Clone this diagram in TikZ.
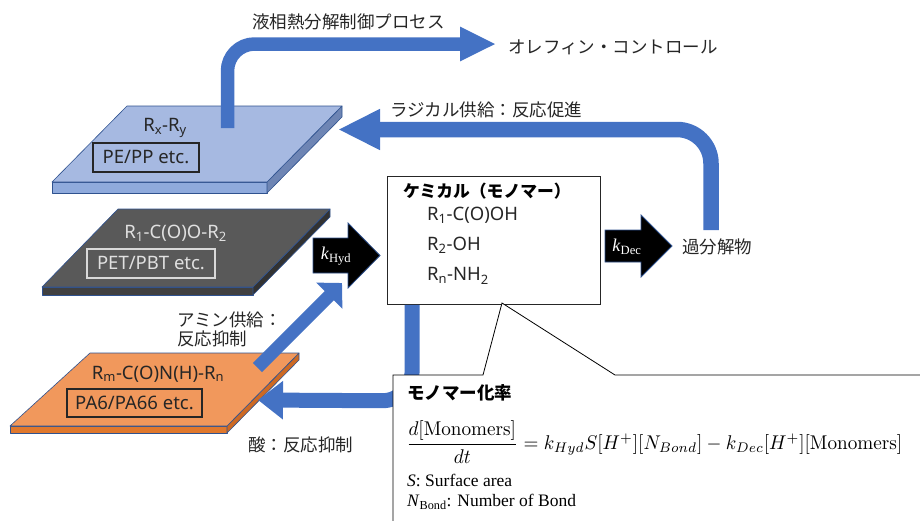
\documentclass[tikz,border=0pt]{standalone}
\usepackage[no-math]{fontspec}
\usepackage{graphicx}
\usepackage{amsmath}
\setmainfont{Noto Sans}
\newfontfamily\jp{Noto Sans CJK JP}
\newfontfamily\tnr{Liberation Serif}
\usetikzlibrary{arrows.meta}

\definecolor{arrowblue}{RGB}{68,114,196}
\definecolor{edgeblue}{RGB}{47,82,143}
\definecolor{peTop}{RGB}{166,185,225}
\definecolor{peFront}{RGB}{143,170,220}
\definecolor{peSide}{RGB}{110,133,180}
\definecolor{petTop}{RGB}{89,89,89}
\definecolor{petFront}{RGB}{64,64,64}
\definecolor{petSide}{RGB}{50,50,50}
\definecolor{paTop}{RGB}{241,152,92}
\definecolor{paFront}{RGB}{224,120,45}
\definecolor{paSide}{RGB}{205,105,35}

\begin{document}
\begin{tikzpicture}[x=1pt,y=-1pt,
	jtext/.style={font=\jp\fontsize{17.5}{19}\selectfont, text=black!85, inner sep=0pt},
	ltext/.style={font=\fontsize{18.5}{20}\selectfont, text=black!85, inner sep=0pt},
	tagbox/.style={draw=black!85, line width=1.3pt, inner sep=0pt},
	bluearrow/.style={draw=arrowblue, line width=#1},
	blockarrow/.style={fill=black, draw=edgeblue, line width=0.8pt},
	slab/.style={draw=edgeblue, line width=0.6pt, line join=round}]
	\useasboundingbox (0,0) rectangle (920,520);
	\clip (0,0) rectangle (920,520);
	
	% PE/PP plate
	\filldraw [slab, fill=peFront] (52,182) -- (267,182) -- (267,193) -- (52,193) -- cycle;
	\filldraw [slab, fill=peSide] (267,182) -- (342,106) -- (342,117) -- (267,193) -- cycle;
	\filldraw [slab, fill=peTop] (127,106) -- (342,106) -- (267,182) -- (52,182) -- cycle;
	\node [ltext] (rxry) at (165,128) {R\textsubscript{x}-R\textsubscript{y}};
	\node [ltext, tagbox, minimum width=106pt, minimum height=29pt] (pepp) at (146,157.5) {PE/PP etc.};
	
	% PET/PBT plate
	\filldraw [slab, fill=petFront] (42,287) -- (253,287) -- (253,295) -- (42,295) -- cycle;
	\filldraw [slab, fill=petSide] (253,287) -- (330,209) -- (330,217) -- (253,295) -- cycle;
	\filldraw [slab, fill=petTop] (118,209) -- (330,209) -- (253,287) -- (42,287) -- cycle;
	\node [ltext, text=black!12] (ester) at (175.5,233) {R\textsubscript{1}-C(O)O-R\textsubscript{2}};
	\node [ltext, tagbox, draw=black!15, text=black!12, minimum width=128pt, minimum height=29pt] (petpbt) at (151,263.5) {PET/PBT etc.};
	
	% PA plate
	\filldraw [slab, fill=paFront] (10,426) -- (227,426) -- (227,433) -- (10,433) -- cycle;
	\filldraw [slab, fill=paSide] (227,426) -- (299,353) -- (299,360) -- (227,433) -- cycle;
	\filldraw [slab, fill=paTop] (90,353) -- (299,353) -- (227,426) -- (10,426) -- cycle;
	\node [ltext] (amide) at (158,374) {R\textsubscript{m}-C(O)N(H)-R\textsubscript{n}};
	\node [ltext, tagbox, minimum width=135pt, minimum height=28pt] (pa) at (134.5,403) {PA6/PA66 etc.};
	
	% chemicals
	\node [draw=black!85, line width=0.8pt, fill=white, minimum width=213pt, minimum height=128pt, inner sep=0pt] (chem) at (493.5,240) {};
	\node [jtext, font=\jp\bfseries\fontsize{16.8}{19}\selectfont, text=black, anchor=west] (chemtitle) at (403,191) {ケミカル（モノマー）};
	\node [ltext, anchor=west] (acid) at (427,215) {R\textsubscript{1}-C(O)OH};
	\node [ltext, anchor=west] (diol) at (427,245) {R\textsubscript{2}-OH};
	\node [ltext, anchor=west] (amine) at (427,276) {R\textsubscript{n}-NH\textsubscript{2}};
	
	\node [jtext, anchor=west] (overdec) at (682,247) {過分解物};
	\node [jtext, anchor=west] (olefin) at (508,47) {オレフィン・コントロール};
	\node [jtext, anchor=west] (liquid) at (252,22) {液相熱分解制御プロセス};
	\node [jtext, anchor=west] (radical) at (390,110) {ラジカル供給：反応促進};
	\node [jtext, anchor=north west, align=left] (aminesup) at (177,312) {アミン供給：\\反応抑制};
	\node [jtext, anchor=west] (acidsup) at (248,445) {酸：反応抑制};
	
	% blue arrows
	\coordinate (peout) at (227.5,128);
	\coordinate (pein) at (338,129.5);
	\coordinate (olefintip) at (496,44);
	\coordinate (overtop) at (711,230);
	\coordinate (paout) at (257.5,367.5);
	\coordinate (hydtail) at (342,283);
	\coordinate (pain) at (258,400);
	
	\draw [bluearrow=13.5pt, rounded corners=27pt, -{Triangle[length=36pt,width=32pt]}] (peout) -- (peout |- olefintip) -- (olefintip);
	\draw [bluearrow=15.5pt, rounded corners=34pt, -{Triangle[length=42pt,width=38pt]}] (overtop) -- (overtop |- pein) -- (pein);
	\draw [bluearrow=13pt, -{Triangle[length=18pt,width=36pt]}] (paout) -- (hydtail);
	\draw [bluearrow=15pt, rounded corners=30pt, -{Triangle[length=25pt,width=37pt]}] ([xshift=25.5pt,yshift=-0.5pt]chem.south west) -- ++(0,96) -- (pain);
	
	% rate constants
	\filldraw [blockarrow] (313,238) -- (348,238) -- (348,223) -- (380,255.5) -- (348,288) -- (348,273) -- (313,273) -- cycle;
	\node [text=white, font=\tnr\fontsize{18}{20}\selectfont] (khyd) at (336,256) {\textit{k}\textsubscript{Hyd}};
	\filldraw [blockarrow] (605,230) -- (641,230) -- (641,215) -- (672,246) -- (641,277) -- (641,262) -- (605,262) -- cycle;
	\node [text=white, font=\tnr\fontsize{18}{20}\selectfont] (kdec) at (627,247) {\textit{k}\textsubscript{Dec}};
	
	% callout
	\filldraw [fill=white, draw=black, line width=0.8pt] (393,530) -- (393,375) -- (483,375) -- (502,303) -- (615,375) -- (930,375) -- (930,530) -- cycle;
	\node [jtext, font=\jp\bfseries\fontsize{17.5}{19}\selectfont, text=black, anchor=west] (ratetitle) at (407,393) {モノマー化率};
	\node [anchor=west, inner sep=0pt] (rate) at (406,442) {\resizebox*{496pt}{42pt}{$\dfrac{d[\mathrm{Monomers}]}{dt} = k_{Hyd}S[H^{+}][N_{Bond}] - k_{Dec}[H^{+}][\mathrm{Monomers}]$}};
	\node [anchor=west, inner sep=0pt, font=\tnr\fontsize{17.5}{20}\selectfont] (surf) at (407,480) {\textit{S}: Surface area};
	\node [anchor=west, inner sep=0pt, font=\tnr\fontsize{17.5}{20}\selectfont] (nbond) at (407,502) {\textit{N}\textsubscript{Bond}: Number of Bond};
\end{tikzpicture}
\end{document}
